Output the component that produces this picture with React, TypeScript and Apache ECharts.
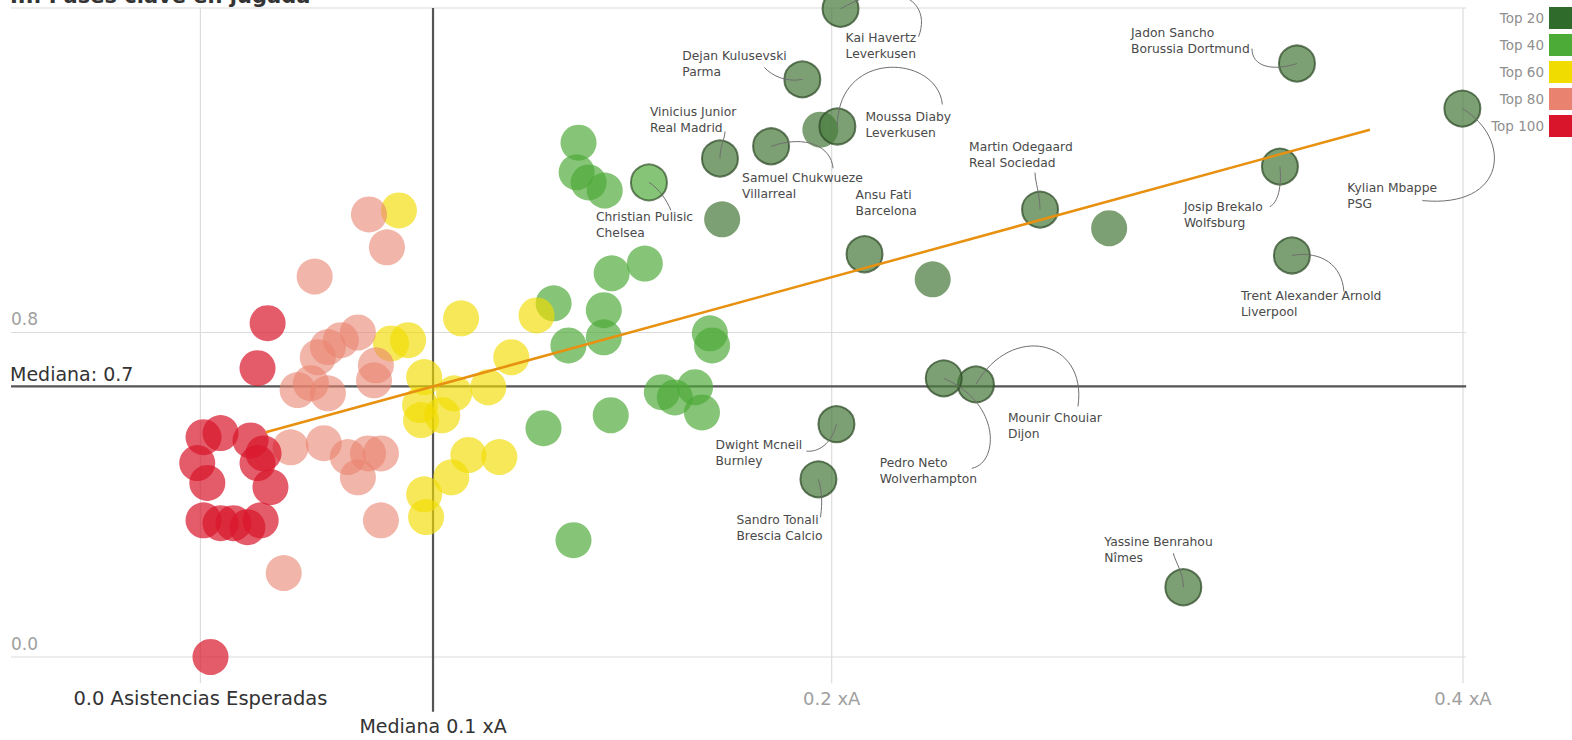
import React, { useEffect, useRef } from "react";
import * as echarts from "echarts";

// ---------- data ----------
const GROUPS = ["Top 20", "Top 40", "Top 60", "Top 80", "Top 100"];
const GROUP_COLORS = ["#2f6b2a", "#4caa36", "#f1dc00", "#e9836f", "#d8152b"];
const BUBBLE_COLORS = ["#4a7b3d", "#4caa36", "#f1dc00", "#e9836f", "#d8152b"];
const BUBBLE_OPACITY = [0.72, 0.68, 0.65, 0.6, 0.7];

// labelled players (x = xA per 90, y = key passes per 90)
const starNames = [
  "Kai Havertz", "Dejan Kulusevski", "Moussa Diaby", "Vinicius Junior", "Samuel Chukwueze",
  "Christian Pulisic", "Ansu Fati", "Martin Odegaard", "Jadon Sancho", "Josip Brekalo",
  "Kylian Mbappe", "Trent Alexander Arnold", "Mounir Chouiar", "Pedro Neto", "Dwight Mcneil",
  "Sandro Tonali", "Yassine Benrahou",
];
const starTeams = [
  "Leverkusen", "Parma", "Leverkusen", "Real Madrid", "Villarreal",
  "Chelsea", "Barcelona", "Real Sociedad", "Borussia Dortmund", "Wolfsburg",
  "PSG", "Liverpool", "Dijon", "Wolverhampton", "Burnley",
  "Brescia Calcio", "Nîmes",
];
const starGroup = [0, 0, 0, 0, 0, 1, 0, 0, 0, 0, 0, 0, 0, 0, 0, 0, 0];
const starPoints = [
  [0.2028, 1.598], [0.1907, 1.424], [0.2018, 1.308], [0.1646, 1.229], [0.1808, 1.259],
  [0.1421, 1.170], [0.2104, 0.993], [0.2660, 1.103], [0.3474, 1.463], [0.3420, 1.209],
  [0.3998, 1.352], [0.3458, 0.990], [0.2457, 0.672], [0.2355, 0.687], [0.2015, 0.574],
  [0.1958, 0.438], [0.3114, 0.172],
];

const top20Points = [[0.1964, 1.300], [0.1653, 1.079], [0.2320, 0.931], [0.2879, 1.057]];
const top40Points = [
  [0.1198, 1.268], [0.1192, 1.195], [0.1230, 1.170], [0.1281, 1.150], [0.1303, 0.946],
  [0.1408, 0.970], [0.1119, 0.872], [0.1278, 0.855], [0.1278, 0.788], [0.1166, 0.768],
  [0.1614, 0.798], [0.1621, 0.768], [0.1462, 0.653], [0.1503, 0.640], [0.1567, 0.665],
  [0.1589, 0.603], [0.1300, 0.596], [0.1087, 0.564], [0.1182, 0.288],
];
const top60Points = [
  [0.0629, 1.101], [0.0826, 0.835], [0.1065, 0.842], [0.0604, 0.773], [0.0658, 0.781],
  [0.0985, 0.739], [0.0709, 0.690], [0.0912, 0.665], [0.0804, 0.650], [0.0696, 0.621],
  [0.0699, 0.584], [0.0766, 0.596], [0.0849, 0.498], [0.0947, 0.493], [0.0795, 0.443],
  [0.0709, 0.401], [0.0715, 0.345],
];
const top80Points = [
  [0.0534, 1.091], [0.0591, 1.010], [0.0362, 0.938], [0.0404, 0.764], [0.0445, 0.781],
  [0.0499, 0.800], [0.0372, 0.739], [0.0350, 0.675], [0.0308, 0.658], [0.0404, 0.650],
  [0.0550, 0.682], [0.0556, 0.719], [0.0286, 0.517], [0.0391, 0.527], [0.0467, 0.493],
  [0.0531, 0.502], [0.0572, 0.502], [0.0499, 0.443], [0.0572, 0.337], [0.0264, 0.207],
];
const top100Points = [
  [0.0213, 0.823], [0.0181, 0.712], [0.0010, 0.542], [0.0064, 0.552], [0.0159, 0.534],
  [0.0200, 0.502], [-0.0010, 0.478], [0.0022, 0.429], [0.0222, 0.419], [0.0010, 0.337],
  [0.0064, 0.330], [0.0105, 0.330], [0.0149, 0.320], [0.0191, 0.337], [0.0181, 0.478],
  [0.0032, 0.000],
];

const trendPoints = [[0.0207, 0.554], [0.3705, 1.300]];

const X_TICKS = [0, 0.2, 0.4];
const X_TICK_LABELS = ["0.0 Asistencias Esperadas", "0.2 xA", "0.4 xA"];
const Y_TICKS = [0, 0.8, 1.6];
const Y_TICK_LABELS = ["0.0", "0.8", ""];
const MEDIAN_X = 0.0737;
const MEDIAN_Y = 0.667;
const MEDIAN_X_LABEL = "Mediana 0.1 xA";
const MEDIAN_Y_LABEL = "Mediana: 0.7";
const TITLE = "III. Pases clave en jugada";

// ---------- label layout (pixels, relative to bubble centre) ----------
// [textX, textY, endX, endY, c1x, c1y, c2x, c2y]; endX null => no leader
const LABEL_LAYOUT: (number | null)[][] = [
  [5, 21, 78, 28, 55, -32, 92, -8],
  [-120, -31, -38, -12, -15, 3, -30, -3],
  [28, -17, 105, -22, 0, -78, 100, -72],
  [-70, -54, 5, -27, 0, -12, 5, -20],
  [-29, 24, 62, 22, 35, -12, 60, 0],
  [-53, 27, 22, 28, 10, 6, 18, 18],
  [-9, -67, null, 0, 0, 0, 0, 0],
  [-71, -71, -5, -37, 0, -15, -5, -28],
  [-166, -39, -45, -15, -25, 8, -45, 3],
  [-96, 32, -10, 40, 2, 20, -2, 36],
  [-115, 71, -40, 92, 50, 30, 45, 100],
  [-51, 33, 52, 36, 30, -5, 50, 10],
  [32, 26, 102, 22, 35, -62, 112, -45],
  [-64, 77, 28, 90, 58, 25, 55, 85],
  [-121, 13, -30, 27, -5, 20, -18, 28],
  [-82, 33, 2, 38, 5, 18, 3, 30],
  [-79, -53, -10, -34, 0, -15, -8, -25],
];

const FONT = "'DejaVu Sans', 'Open Sans', sans-serif";

export default function App() {
  const ref = useRef<HTMLDivElement>(null);

  useEffect(() => {
    const chart = echarts.init(ref.current!, null, { renderer: "svg" });

    const groupData: any[][] = [top20Points, top40Points, top60Points, top80Points, top100Points].map(
      (pts) => pts.map((p) => ({ value: p }))
    );
    starPoints.forEach((p, i) => {
      groupData[starGroup[i]].push({
        value: p,
        name: starNames[i],
        itemStyle: { borderColor: "#2c4a25", borderWidth: 2 },
      });
    });

    const series: any[] = GROUPS.map((g, i) => ({
      name: g,
      type: "scatter",
      symbolSize: 36,
      data: groupData[i],
      itemStyle: { color: BUBBLE_COLORS[i], opacity: BUBBLE_OPACITY[i] },
      emphasis: { disabled: true },
      silent: true,
      z: 2,
    }));
    series.push({
      name: "trend",
      type: "line",
      data: trendPoints,
      symbol: "none",
      lineStyle: { color: "#e8900f", width: 2.5 },
      silent: true,
      z: 5,
    });

    chart.setOption({
      animation: false,
      backgroundColor: "#ffffff",
      grid: { left: 11, right: 109, top: 8, bottom: 83 },
      xAxis: {
        type: "value", min: -0.06, max: 0.4,
        axisLine: { show: false }, axisTick: { show: false }, axisLabel: { show: false }, splitLine: { show: false },
      },
      yAxis: {
        type: "value", min: 0, max: 1.6,
        axisLine: { show: false }, axisTick: { show: false }, axisLabel: { show: false }, splitLine: { show: false },
      },
      legend: {
        data: GROUPS.map((g, i) => ({ name: g, itemStyle: { color: GROUP_COLORS[i], opacity: 1, borderWidth: 0 } })),
        orient: "vertical",
        right: 0,
        top: 7,
        padding: 0,
        icon: "rect",
        itemWidth: 23,
        itemHeight: 22,
        itemGap: 5,
        align: "right",
        selectedMode: false,
        textStyle: { color: "#8f8f8f", fontSize: 13.5, fontFamily: FONT },
      },
      series,
    });

    const px = (v: number[]) => chart.convertToPixel({ gridIndex: 0 }, v) as number[];
    const els: any[] = [];
    const gridColor = "#dcdcdc";

    // horizontal grid lines
    Y_TICKS.forEach((t, i) => {
      const a = px([-0.06, t]);
      const b = px([0.401, t]);
      els.push({ type: "line", z: 0, shape: { x1: a[0], y1: a[1], x2: b[0], y2: b[1] }, style: { stroke: gridColor, lineWidth: 1.2 } });
      if (Y_TICK_LABELS[i]) {
        els.push({
          type: "text", z: 10, x: a[0], y: a[1] - 5,
          style: { text: Y_TICK_LABELS[i], fill: "#a0a0a0", font: `17px ${FONT}`, align: "left", verticalAlign: "bottom" },
        });
      }
    });
    // vertical grid lines
    X_TICKS.forEach((t, i) => {
      const a = px([t, 1.6]);
      const b = px([t, -0.065]);
      els.push({ type: "line", z: 0, shape: { x1: a[0], y1: a[1], x2: b[0], y2: b[1] }, style: { stroke: gridColor, lineWidth: 1.2 } });
      els.push({
        type: "text", z: 10, x: a[0], y: px([t, 0])[1] + 41,
        style: {
          text: X_TICK_LABELS[i],
          fill: i === 0 ? "#333333" : "#a0a0a0",
          font: `${i === 0 ? 19.5 : 18}px ${FONT}`,
          align: "center", verticalAlign: "middle",
        },
      });
    });
    // median lines
    {
      const a = px([MEDIAN_X, 1.6]);
      const b = px([MEDIAN_X, -0.135]);
      els.push({ type: "line", z: 1, shape: { x1: a[0], y1: a[1], x2: b[0], y2: b[1] }, style: { stroke: "#555555", lineWidth: 2.2 } });
      els.push({
        type: "text", z: 10, x: a[0], y: b[1] + 14,
        style: { text: MEDIAN_X_LABEL, fill: "#333333", font: `19px ${FONT}`, align: "center", verticalAlign: "middle" },
      });
      const c = px([-0.06, MEDIAN_Y]);
      const d = px([0.401, MEDIAN_Y]);
      els.push({ type: "line", z: 1, shape: { x1: c[0], y1: c[1], x2: d[0], y2: d[1] }, style: { stroke: "#555555", lineWidth: 2.2 } });
      els.push({
        type: "text", z: 10, x: c[0] - 1, y: c[1] - 3,
        style: { text: MEDIAN_Y_LABEL, fill: "#333333", font: `19px ${FONT}`, align: "left", verticalAlign: "bottom" },
      });
    }
    // title (cut at top, as in the reference)
    els.push({
      type: "text", z: 10, x: 10, y: 6,
      style: { text: TITLE, fill: "#333333", font: `bold 21px ${FONT}`, align: "left", verticalAlign: "bottom" },
    });

    // player labels with leaders
    starPoints.forEach((p, i) => {
      const c = px(p);
      const L = LABEL_LAYOUT[i];
      if (L[2] !== null) {
        els.push({
          type: "bezierCurve", z: 8, silent: true,
          shape: {
            x1: c[0], y1: c[1],
            x2: c[0] + (L[2] as number), y2: c[1] + (L[3] as number),
            cpx1: c[0] + (L[4] as number), cpy1: c[1] + (L[5] as number),
            cpx2: c[0] + (L[6] as number), cpy2: c[1] + (L[7] as number),
          },
          style: { stroke: "#6f6f6f", lineWidth: 1, fill: null },
        });
      }
      els.push({
        type: "text", z: 10, x: c[0] + (L[0] as number), y: c[1] + (L[1] as number),
        style: {
          text: `${starNames[i]}\n${starTeams[i]}`,
          fill: "#4a4a4a",
          font: `12.3px ${FONT}`,
          lineHeight: 16,
          align: "left",
          verticalAlign: "top",
        },
      });
    });

    chart.setOption({ graphic: { elements: els } });

    return () => chart.dispose();
  }, []);

  return (
    <div
      ref={ref}
      style={{ position: "fixed", left: 0, top: 0, width: 1572, height: 740, background: "#ffffff" }}
    />
  );
}
